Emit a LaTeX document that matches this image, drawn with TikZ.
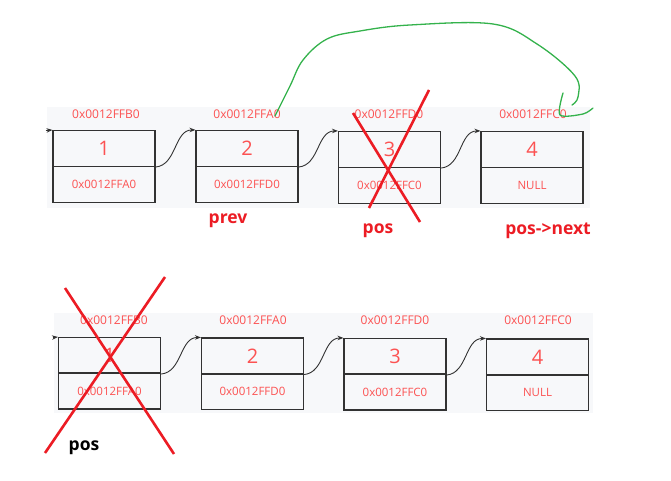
\documentclass[tikz,border=0pt]{standalone}
\usepackage{fontspec}
\setmainfont{Open Sans}
\usetikzlibrary{arrows.meta}
\definecolor{addrred}{RGB}{252,82,82}
\definecolor{markred}{RGB}{236,28,36}
\definecolor{boxgray}{RGB}{50,50,50}
\definecolor{bggray}{RGB}{247,248,250}
\definecolor{penGreen}{RGB}{52,178,76}
\begin{document}
\begin{tikzpicture}
[x=1pt,y=-1pt,
 half/.style={draw=boxgray,line width=1.1pt,minimum width=102pt,minimum height=36pt,inner sep=0pt},
 valtext/.style={text=addrred,font=\fontsize{20}{20}\selectfont},
 ptrtext/.style={text=addrred,font=\fontsize{11.5}{11.5}\selectfont},
 addrtext/.style={text=addrred,font=\fontsize{12}{12}\selectfont},
 tag/.style={font=\fontsize{17.5}{17.5}\selectfont\bfseries},
 link/.style={draw=boxgray,line width=0.9pt,-{Stealth[length=6pt,width=4.5pt]}},
 cross/.style={draw=markred,line width=2.6pt}]
\useasboundingbox (0,0) rectangle (671,481);
\fill[bggray] (47,107) rectangle (590,208);
\fill[bggray] (54,313) rectangle (593,413);

% first list
\draw (104,148.5) node[half,valtext](n1){1};
\draw (104,184.5) node[half,ptrtext](p1){0x0012FFA0};
\draw (247,148.5) node[half,valtext](n2){2};
\draw (247,184.5) node[half,ptrtext](p2){0x0012FFD0};
\draw (389.5,149.5) node[half,valtext](n3){3};
\draw (389.5,185.5) node[half,ptrtext](p3){0x0012FFC0};
\draw (532,149.5) node[half,valtext](n4){4};
\draw (532,185.5) node[half,ptrtext](p4){NULL};
\draw (106,114) node[addrtext](a1){0x0012FFB0};
\draw (247,114) node[addrtext](a2){0x0012FFA0};
\draw (389,114) node[addrtext](a3){0x0012FFD0};
\draw (533,114) node[addrtext](a4){0x0012FFC0};
\coordinate (head1) at (46,130.5);
\draw[link] (head1) -- (n1.north west);
\draw[link] (n1.south east) to[out=5,in=180] (n2.north west);
\draw[link] (n2.south east) to[out=5,in=180] (n3.north west);
\draw[link] (n3.south east) to[out=5,in=180] (n4.north west);
\draw (228,221) node[tag,text=markred](prev){prev};
\draw (378,231) node[tag,text=markred](pos){pos};
\draw (548,231) node[tag,text=markred](posnext){pos->next};
\draw[cross] (353,113) -- (420,222);
\draw[cross] (429,90) -- (369,208);
\draw[penGreen,line width=1.3pt,line cap=round] plot[smooth,tension=0.6] coordinates
 {(275,116) (290,86) (303,60) (327,39) (360,31) (410,25) (493,24) (537,44) (575,76) (578,97) (572,105)};
\draw[penGreen,line width=1.3pt,line cap=round] plot[smooth,tension=0.5] coordinates
 {(563,93) (560,115) (583,114) (593,108)};

% second list
\draw (109.5,355.5) node[half,valtext](m1){1};
\draw (109.5,391) node[half,ptrtext](q1){0x0012FFA0};
\draw (252.5,356) node[half,valtext](m2){2};
\draw (252.5,391.5) node[half,ptrtext](q2){0x0012FFD0};
\draw (395,356.5) node[half,valtext](m3){3};
\draw (395,392) node[half,ptrtext](q3){0x0012FFC0};
\draw (537.5,357) node[half,valtext](m4){4};
\draw (537.5,392.5) node[half,ptrtext](q4){NULL};
\draw (114,320) node[addrtext](b1){0x0012FFB0};
\draw (253,320) node[addrtext](b2){0x0012FFA0};
\draw (395,320) node[addrtext](b3){0x0012FFD0};
\draw (538,320) node[addrtext](b4){0x0012FFC0};
\coordinate (head2) at (53,337.5);
\draw[link] (head2) -- (m1.north west);
\draw[link] (m1.south east) to[out=5,in=180] (m2.north west);
\draw[link] (m2.south east) to[out=5,in=180] (m3.north west);
\draw[link] (m3.south east) to[out=5,in=180] (m4.north west);
\draw (84,448) node[tag](oldpos){pos};
\draw[cross] (65,288) -- (174,454);
\draw[cross] (165,277) -- (45,453);

\end{tikzpicture}
\end{document}
